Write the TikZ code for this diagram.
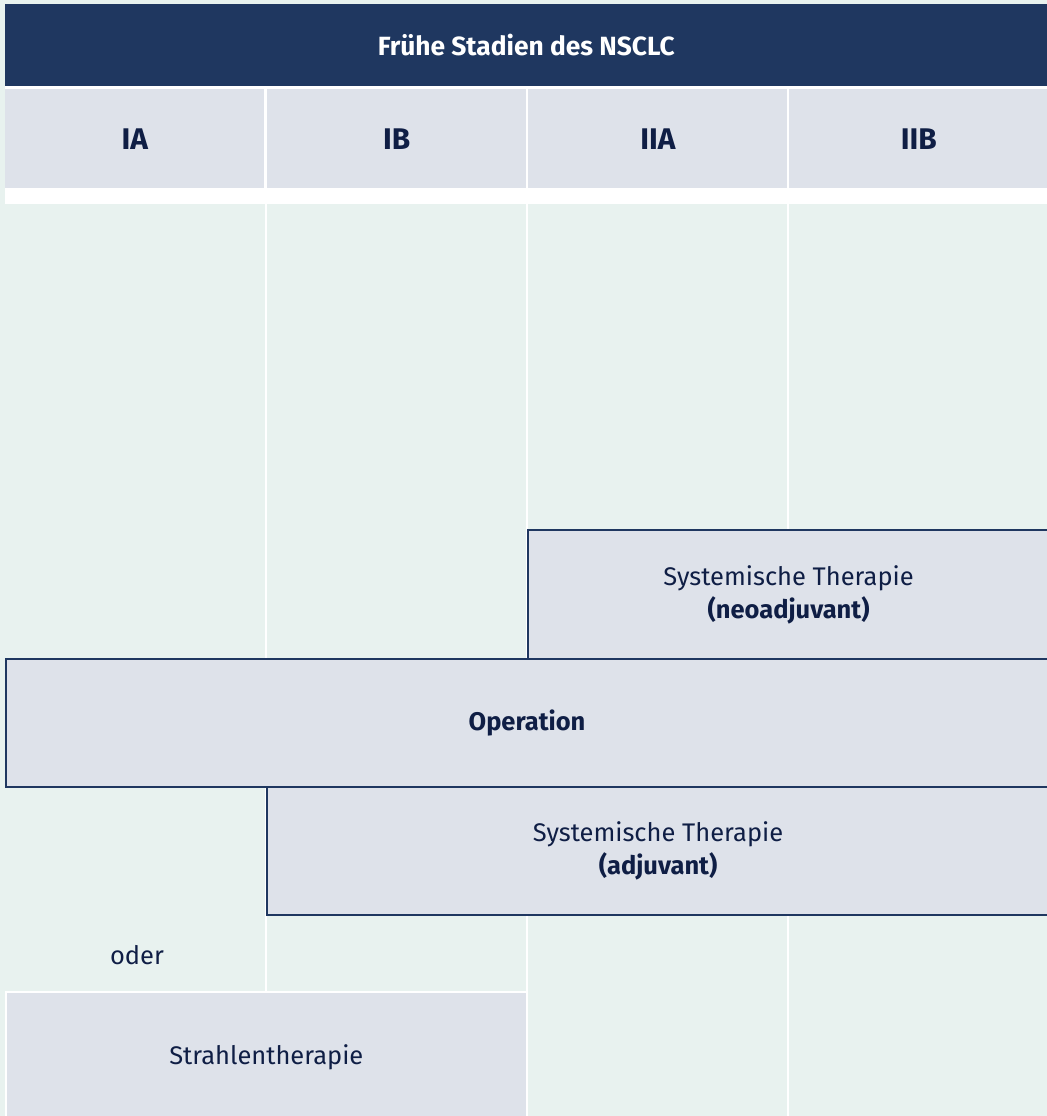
\documentclass[tikz,border=0pt]{standalone}
\usepackage{fontspec}
\setmainfont{Fira Sans}
\usetikzlibrary{positioning}

\definecolor{navy}{HTML}{1F3760}
\definecolor{ink}{HTML}{0F1E45}
\definecolor{cellfill}{HTML}{DEE2EA}
\definecolor{mint}{HTML}{E8F2EF}

\tikzset{
  headbox/.style={fill=navy, text=white, font=\fontsize{15}{18}\selectfont\bfseries, inner sep=0pt, anchor=north west},
  stagebox/.style={fill=cellfill, text=ink, font=\fontsize{17}{20}\selectfont\bfseries, inner sep=0pt, anchor=north west, minimum width=5.18cm, minimum height=1.98cm},
  therapybox/.style={draw=navy, line width=1.3pt, fill=cellfill, text=ink, align=center, inner sep=0pt, anchor=north west, font=\fontsize{14.5}{17}\selectfont},
  plainbox/.style={fill=cellfill, draw=white, line width=1pt, text=ink, inner sep=0pt, anchor=north west, font=\fontsize{14.5}{17}\selectfont},
  divider/.style={white, line width=1.4pt}
}

\begin{document}
\begin{tikzpicture}[x=0.02cm, y=-0.02cm]
% background
\fill[mint] (0,0) rectangle (1047,1116);
\useasboundingbox (0,0) rectangle (1047,1116);
\fill[white] (5,86) rectangle (1047,204);

% title
\node[headbox, minimum width=20.84cm, minimum height=1.64cm] (title) at (5,4) {Frühe Stadien des NSCLC};

% stages
\node[stagebox] (ia)  at (5,89)   {IA};
\node[stagebox] (ib)  at (267,89) {IB};
\node[stagebox] (iia) at (528,89) {IIA};
\node[stagebox] (iib) at (789,89) {IIB};

% column lines
\coordinate (c1) at (266,204);
\coordinate (c2) at (527,204);
\coordinate (c3) at (788,204);
\foreach \c in {c1,c2,c3}
  \draw[divider] (\c) -- ++(0,912);

% therapies
\node[therapybox, minimum width=10.42cm, minimum height=2.58cm] (neo) at (527,529)
  {Systemische Therapie\\[2pt]\textbf{(neoadjuvant)}};
\node[therapybox, minimum width=20.84cm, minimum height=2.56cm, font=\fontsize{14.5}{17}\selectfont\bfseries] (op) at (5,658) {Operation};
\node[therapybox, minimum width=15.64cm, minimum height=2.56cm] (adj) at (266,786)
  {Systemische Therapie\\[2pt]\textbf{(adjuvant)}};

\node[text=ink, font=\fontsize{14.5}{17}\selectfont] (oder) at (137,955) {oder};
\node[plainbox, minimum width=10.42cm, minimum height=2.6cm] (strahl) at (5,991) {Strahlentherapie};
\end{tikzpicture}
\end{document}
